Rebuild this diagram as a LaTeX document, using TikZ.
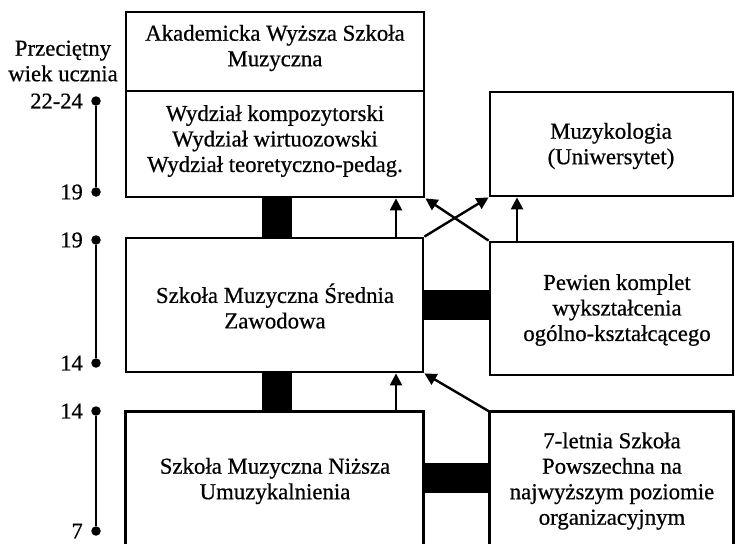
\documentclass[tikz,border=0pt]{standalone}
\usepackage{fontspec}
\setmainfont[FakeBold=0.6]{Liberation Serif}
\usetikzlibrary{arrows.meta}
\begin{document}
\begin{tikzpicture}[x=1pt,y=-1pt,
  box/.style={draw, line width=2.8pt, inner sep=0pt},
  openbox/.style={draw=none, inner sep=0pt},
  side/.style={line width=2.8pt},
  txt/.style={inner sep=0pt, align=center, font=\fontsize{22.8}{25.5}\selectfont},
  bar/.style={line width=30pt},
  arr/.style={line width=2.4pt, -{Triangle[length=12pt,width=12pt]}},
  dotn/.style={circle, fill=black, inner sep=0pt, minimum size=9.5pt},
  tl/.style={line width=2.4pt},
  num/.style={anchor=east, inner sep=0pt, font=\fontsize{22.5}{25}\selectfont}]
\useasboundingbox (0,0) rectangle (735,543);

% boxes
\node[box, minimum width=298pt, minimum height=79pt] (akad) at (275,51.5) {};
\node[box, minimum width=298pt, minimum height=106pt] (wydz) at (275,144) {};
\node[box, minimum width=243pt, minimum height=104pt] (muz) at (611.5,144) {};
\node[box, minimum width=297pt, minimum height=134pt] (mid) at (274.5,305) {};
\node[box, minimum width=243pt, minimum height=133pt] (pew) at (611.5,308.5) {};
\node[openbox, minimum width=297pt, minimum height=140pt] (low) at (274.5,482) {};
\node[openbox, minimum width=243pt, minimum height=140pt] (sev) at (611.5,482) {};
\draw[side] (low.south west) -- (low.north west) -- (low.north east) -- (low.south east);
\draw[side] (sev.south west) -- (sev.north west) -- (sev.north east) -- (sev.south east);

% texts
\node[txt] (takad) at (275,48) {Akademicka Wyższa Szkoła\\Muzyczna};
\node[txt] (twydz) at (275,141) {Wydział kompozytorski\\Wydział wirtuozowski\\Wydział teoretyczno-pedag.};
\node[txt] (tmuz) at (611,146) {Muzykologia\\(Uniwersytet)};
\node[txt] (tmid) at (275,306) {Szkoła Muzyczna Średnia\\Zawodowa};
\node[txt] (tpew) at (617,310) {Pewien komplet\\wykształcenia\\ogólno-kształcącego};
\node[txt] (tlow) at (275,481) {Szkoła Muzyczna Niższa\\Umuzykalnienia};
\node[txt] (tsev) at (612,481) {7-letnia Szkoła\\Powszechna na\\najwyższym poziomie\\organizacyjnym};

% helper coordinates
\coordinate (cbar) at (277,0);
\coordinate (carrL) at (396,0);
\coordinate (carrR) at (517,0);
\coordinate (hb1) at (0,305);
\coordinate (hb2) at (0,478);

% thick bars
\draw[bar] (wydz.south -| cbar) -- (mid.north -| cbar);
\draw[bar] (mid.south -| cbar) -- (low.north -| cbar);
\draw[bar] (mid.east |- hb1) -- (pew.west |- hb1);
\draw[bar] (low.east |- hb2) -- (sev.west |- hb2);

% arrows
\draw[arr] (mid.north -| carrL) -- (wydz.south -| carrL);
\draw[arr] (pew.north -| carrR) -- (muz.south -| carrR);
\draw[arr] (mid.north east) -- (muz.south west);
\draw[arr] (pew.north west) -- (wydz.south east);
\draw[arr] (low.north -| carrL) -- (mid.south -| carrL);
\draw[arr] (sev.north west) -- (mid.south east);

% age timeline
\node[txt] (head) at (63,61) {Przeciętny\\wiek ucznia};
\node[dotn] (d1) at (96,101) {};
\node[dotn] (d2) at (96,192) {};
\node[dotn] (d3) at (96,240) {};
\node[dotn] (d4) at (96,363) {};
\node[dotn] (d5) at (96,411) {};
\node[dotn] (d6) at (96,531) {};
\draw[tl] (d1) -- (d2);
\draw[tl] (d3) -- (d4);
\draw[tl] (d5) -- (d6);
\node[num] (n1) at (83,101) {22-24};
\node[num] (n2) at (83,192) {19};
\node[num] (n3) at (83,240) {19};
\node[num] (n4) at (83,363) {14};
\node[num] (n5) at (83,411) {14};
\node[num] (n6) at (83,531) {7};
\end{tikzpicture}
\end{document}
